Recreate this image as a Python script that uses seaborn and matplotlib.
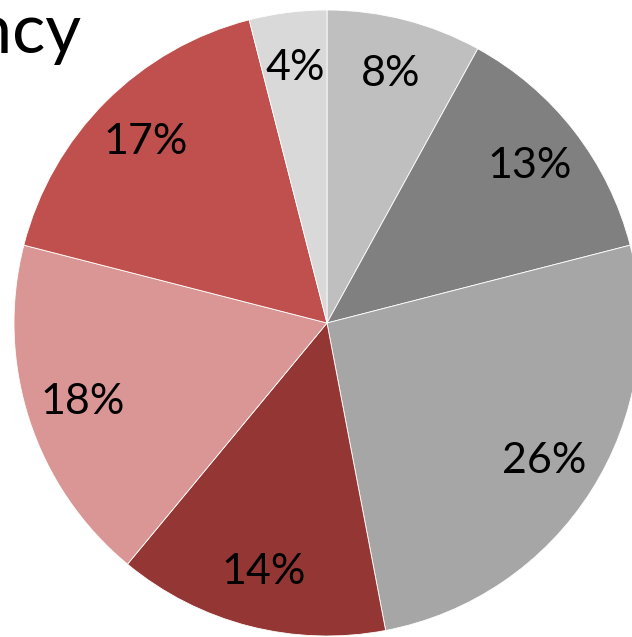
import seaborn as sns
import matplotlib.pyplot as plt

# Slice values (percent), clockwise from 12 o'clock
shares = [8, 13, 26, 14, 18, 17, 4]
slice_colors = ['#BFBFBF', '#808080', '#A6A6A6', '#943634', '#D99694', '#C0504D', '#D9D9D9']
title_text = 'Frequency'

sns.set_theme(style='white')
plt.rcParams['font.family'] = ['Lato', 'DejaVu Sans']

fig = plt.figure(figsize=(6.32, 6.37), dpi=100)
ax = fig.add_axes([0, 0, 1, 1])

# Pie centre sits at pixel (327, 323) with radius ~313 px, so parts of it fall off the canvas
radius_px = 313
cx, cy = 327, 323
ax.pie(shares, colors=sns.color_palette(slice_colors), startangle=90, counterclock=False,
       autopct='%1.0f%%', pctdistance=0.82, radius=1,
       wedgeprops=dict(edgecolor='white', linewidth=0.6),
       textprops=dict(fontsize=31, color='black'))
ax.set_xlim(-cx / radius_px, (632 - cx) / radius_px)
ax.set_ylim(-(637 - cy) / radius_px, cy / radius_px)
ax.set_aspect('auto')
ax.axis('off')

# Title is cut off by the left edge of the picture
fig.text(82 / 632, 1 - 53 / 637, title_text, ha='right', va='baseline',
         fontsize=50, fontweight='normal', color='black')

fig.savefig('out.png', dpi=100)
